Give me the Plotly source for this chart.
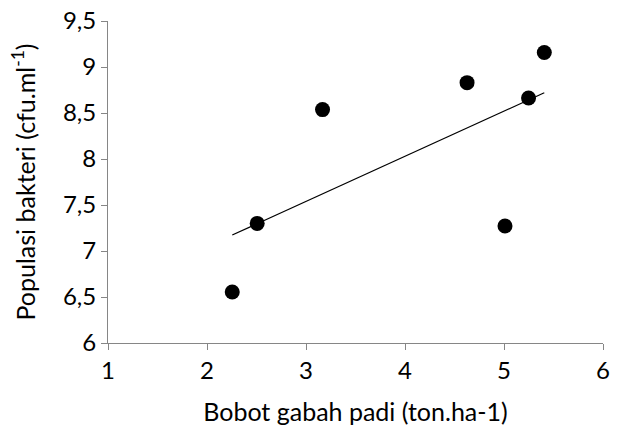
import numpy as np
import plotly.graph_objects as go

bobot = [2.255, 2.507, 3.167, 4.627, 5.010, 5.248, 5.407]
populasi = [6.554, 7.30, 8.537, 8.83, 7.272, 8.663, 9.157]

slope, intercept = np.polyfit(bobot, populasi, 1)
tx = [min(bobot), max(bobot)]
ty = [slope * v + intercept for v in tx]

fig = go.Figure()
fig.add_trace(go.Scatter(x=tx, y=ty, mode="lines",
                         line=dict(color="black", width=1.2), hoverinfo="skip"))
fig.add_trace(go.Scatter(x=bobot, y=populasi, mode="markers",
                         marker=dict(color="black", size=15)))

axis_common = dict(showgrid=False, zeroline=False, showline=True,
                   linecolor="#868686", linewidth=1, ticks="outside",
                   tickcolor="#868686", ticklen=6, tickwidth=1,
                   tickfont=dict(size=24, color="black"), automargin=False)

fig.update_layout(
    width=621, height=432,
    margin=dict(l=108, r=18, t=21, b=89),
    paper_bgcolor="white", plot_bgcolor="white",
    showlegend=False,
    separators=", ",
    font=dict(family="Lato", color="black"),
    xaxis=dict(range=[1, 6], dtick=1, tick0=1,
               title=dict(text="Bobot gabah padi (ton.ha-1)", font=dict(size=25), standoff=20),
               **axis_common),
    yaxis=dict(range=[6, 9.5], dtick=0.5, tick0=6,
               title=dict(text="Populasi bakteri (cfu.ml<sup>-1</sup>)", font=dict(size=25), standoff=20),
               **axis_common),
)

fig.write_html("out.html", config={"displayModeBar": False},
               post_script="document.body.style.margin='0';document.body.style.padding='0';")
